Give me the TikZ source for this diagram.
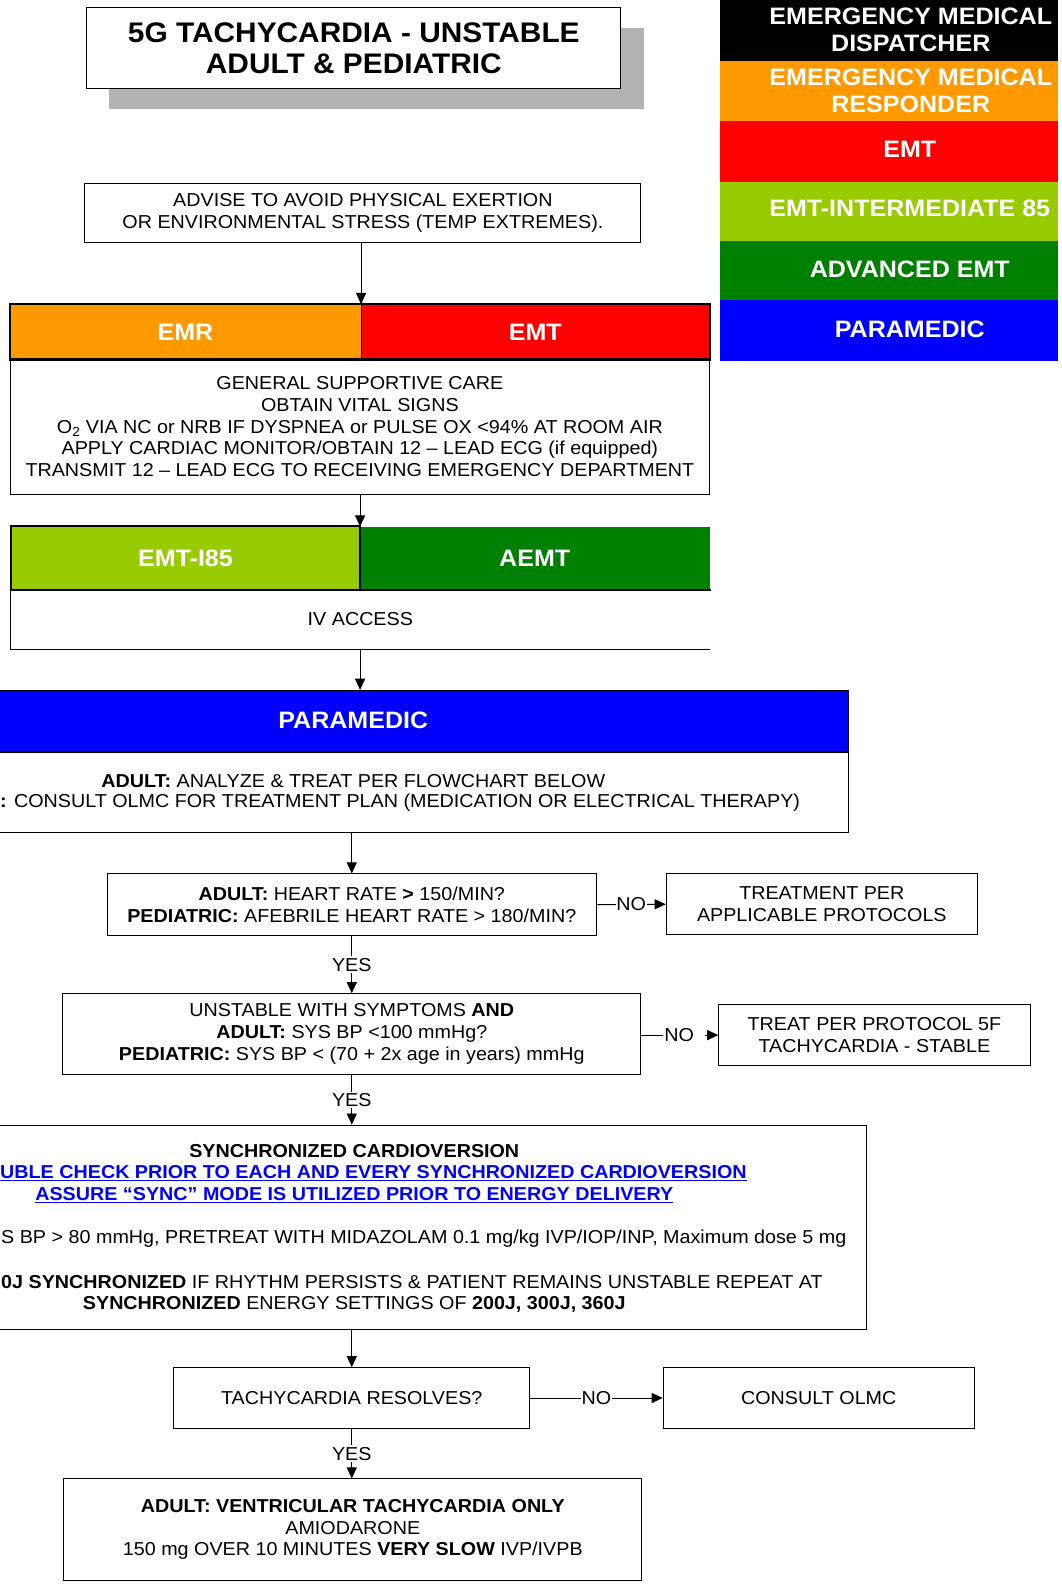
\documentclass[tikz,border=0pt]{standalone}
\usepackage{fontspec}
\setmainfont[FakeStretch=1.055]{Liberation Sans}
\usetikzlibrary{arrows.meta}
\definecolor{emrorange}{HTML}{FF9900}
\definecolor{emtred}{HTML}{FF0000}
\definecolor{iyg}{HTML}{99CC00}
\definecolor{aemtgreen}{HTML}{008000}
\definecolor{parablue}{HTML}{0000FF}
\definecolor{shadowgray}{HTML}{B3B3B3}
\newcommand\rsBody{\fontsize{18.5}{21.5}\selectfont}
\newcommand\rsTitle{\fontsize{28}{31}\selectfont\bfseries}
\newcommand\rsHead{\fontsize{23.5}{27}\selectfont\bfseries}
\newcommand\rsLink[1]{{\color{parablue}\bfseries\underline{#1}}}
\begin{document}
\begin{tikzpicture}[x=1pt,y=-1pt,
  box/.style={draw=black, line width=0.9pt, rectangle, inner sep=0pt, align=center, font=\rsBody},
  plain/.style={inner sep=0pt, align=center, font=\rsBody},
  hdr/.style={rectangle, inner sep=0pt, draw=none, text=white, font=\rsHead},
  legcell/.style={rectangle, inner sep=0pt, draw=none, minimum width=335pt},
  legtext/.style={inner sep=0pt, align=center, text=white, font=\rsHead},
  thickb/.style={line width=2pt, line cap=rect},
  arr/.style={line width=0.9pt, -{Triangle[length=11pt,width=10pt]}},
  conn/.style={line width=0.9pt},
  lbl/.style={fill=white, inner sep=1.5pt, font=\rsBody}]
\useasboundingbox (0,0) rectangle (1050,1568);
\fill[white] (0,0) rectangle (1050,1568);
\clip (0,0) rectangle (1050,1568);

% ---------- legend ----------
\node[legcell, fill=black, minimum height=60pt] (lg1) at (879.5,30) {};
\node[legtext] (lt1) at (901,29.5) {EMERGENCY MEDICAL\\DISPATCHER};
\node[legcell, fill=emrorange, minimum height=60pt] (lg2) at (879.5,90) {};
\node[legtext] (lt2) at (901,89.5) {EMERGENCY MEDICAL\\RESPONDER};
\node[legcell, fill=emtred, minimum height=60pt] (lg3) at (879.5,150) {};
\node[legtext] (lt3) at (900,148) {EMT};
\node[legcell, fill=iyg, minimum height=58pt] (lg4) at (879.5,209) {};
\node[legtext] (lt4) at (900,206) {EMT-INTERMEDIATE 85};
\node[legcell, fill=aemtgreen, minimum height=59pt] (lg5) at (879.5,267.5) {};
\node[legtext] (lt5) at (900,266) {ADVANCED EMT};
\node[legcell, fill=parablue, minimum height=60pt] (lg6) at (879.5,327) {};
\node[legtext] (lt6) at (900,326) {PARAMEDIC};

% ---------- title ----------
\fill[shadowgray] (108,28) rectangle (637,108);
\node[box, fill=white, minimum width=528pt, minimum height=80pt, font=\rsTitle] (title) at (350,47.5)
  {5G TACHYCARDIA - UNSTABLE\\ADULT \& PEDIATRIC};

% ---------- advise ----------
\node[box, minimum width=550pt, minimum height=59pt] (advise) at (359,210.5)
  {ADVISE TO AVOID PHYSICAL EXERTION\\OR ENVIRONMENTAL STRESS (TEMP EXTREMES).};

% ---------- EMR / EMT ----------
\node[hdr, fill=emrorange, minimum width=347pt, minimum height=55pt] (emr) at (183.5,328.5) {EMR};
\node[hdr, fill=emtred, minimum width=345pt, minimum height=55pt] (emt) at (529.5,328.5) {EMT};
\draw[line width=1pt] (emr.north east) -- (emr.south east);
\draw[thickb] (emr.north west) rectangle (emt.south east);
\node[box, minimum width=692pt, minimum height=134pt] (care) at (356,422)
  {GENERAL SUPPORTIVE CARE\\
   OBTAIN VITAL SIGNS\\
   O\textsubscript{2} VIA NC or NRB IF DYSPNEA or PULSE OX <94\% AT ROOM AIR\\
   APPLY CARDIAC MONITOR/OBTAIN 12 -- LEAD ECG (if equipped)\\
   TRANSMIT 12 -- LEAD ECG TO RECEIVING EMERGENCY DEPARTMENT};
\draw[arr] (advise.south -| emr.north east) -- (emr.north east);

% ---------- EMT-I85 / AEMT ----------
\node[hdr, fill=iyg, minimum width=345pt, minimum height=62pt] (i85) at (183.5,552) {EMT-I85};
\node[hdr, fill=aemtgreen, minimum width=346pt, minimum height=62pt] (aemt) at (529,552) {AEMT};
\draw[thickb] (aemt.south east) -- (i85.south west) -- (i85.north west) -- (i85.north east) -- (i85.south east);
\node[plain, minimum width=691pt, minimum height=59pt] (iv) at (356.5,612.5) {IV ACCESS};
\draw[conn] (iv.north west) -- (iv.south west) -- (iv.south east);
\draw[arr] (care.south -| i85.north east) -- (i85.north east);

% ---------- PARAMEDIC ----------
\node[hdr, fill=parablue, draw=black, line width=1.2pt, minimum width=1000pt, minimum height=61pt] (para) at (339,713.5) {};
\node[legtext] (paratxt) at (349.5,712.5) {PARAMEDIC};
\node[box, minimum width=1000pt, minimum height=80pt] (pbody) at (339,784) {};
\node[plain] (pl1) at (349.5,772.5) {\textbf{ADULT:} ANALYZE \& TREAT PER FLOWCHART BELOW};
\node[plain, anchor=west] (pl2) at (0,794.5) {\textbf{:} CONSULT OLMC FOR TREATMENT PLAN (MEDICATION OR ELECTRICAL THERAPY)};
\draw[arr] (iv.south -| i85.north east) -- (para.north -| i85.north east);

% ---------- decision 1 ----------
\node[box, minimum width=484pt, minimum height=61pt] (d1) at (348,895)
  {\textbf{ADULT:} HEART RATE \textbf{>} 150/MIN?\\
   \textbf{PEDIATRIC:} AFEBRILE HEART RATE > 180/MIN?};
\node[box, minimum width=308pt, minimum height=60pt] (treat) at (813,894.5)
  {TREATMENT PER\\APPLICABLE PROTOCOLS};
\draw[arr] (pbody.south -| d1.north) -- (d1.north);
\draw[arr] (d1.east) -- node[lbl, inner sep=0.5pt] (no1) {NO} (treat.west);

% ---------- decision 2 ----------
\node[box, minimum width=572pt, minimum height=80pt] (d2) at (348,1023)
  {UNSTABLE WITH SYMPTOMS \textbf{AND}\\
   \textbf{ADULT:} SYS BP <100 mmHg?\\
   \textbf{PEDIATRIC:} SYS BP < (70 + 2x age in years) mmHg};
\node[box, minimum width=308pt, minimum height=60pt] (stable) at (865,1024)
  {TREAT PER PROTOCOL 5F\\TACHYCARDIA - STABLE};
\draw[arr] (d1.south) -- node[lbl] (yes1) {YES} (d2.north);
\draw[arr] (d2.east |- stable.west) -- node[lbl, xshift=4pt] (no2) {NO\kern9pt} (stable.west);

% ---------- synchronized cardioversion ----------
\node[box, minimum width=1020pt, minimum height=202pt] (sync) at (347,1214) {};
\node[plain] (s1) at (350.5,1138.5) {\bfseries SYNCHRONIZED CARDIOVERSION};
\node[plain, anchor=west] (s2) at (0,1160.5) {\rsLink{UBLE CHECK PRIOR TO EACH AND EVERY SYNCHRONIZED CARDIOVERSION}};
\node[plain] (s3) at (350.5,1182.5) {\rsLink{ASSURE “SYNC” MODE IS UTILIZED PRIOR TO ENERGY DELIVERY}};
\node[plain, anchor=west] (s4) at (1,1225) {S BP > 80 mmHg, PRETREAT WITH MIDAZOLAM 0.1 mg/kg IVP/IOP/INP, Maximum dose 5 mg};
\node[plain, anchor=west] (s5) at (1,1268) {\textbf{0J SYNCHRONIZED} IF RHYTHM PERSISTS \& PATIENT REMAINS UNSTABLE REPEAT AT};
\node[plain] (s6) at (350.5,1290) {\textbf{SYNCHRONIZED} ENERGY SETTINGS OF \textbf{200J, 300J, 360J}};
\draw[arr] (d2.south) -- node[lbl] (yes2) {YES} (d2.south |- sync.north);

% ---------- resolves ----------
\node[box, minimum width=352pt, minimum height=60pt] (res) at (348,1383) {TACHYCARDIA RESOLVES?};
\node[box, minimum width=308pt, minimum height=60pt] (olmc) at (810,1383) {CONSULT OLMC};
\draw[arr] (sync.south -| res.north) -- (res.north);
\draw[arr] (res.east) -- node[lbl, inner sep=0.5pt] (no3) {NO} (olmc.west);

% ---------- final ----------
\node[box, minimum width=572pt, minimum height=100pt] (amio) at (349,1513)
  {\textbf{ADULT: VENTRICULAR TACHYCARDIA ONLY}\\
   AMIODARONE\\
   150 mg OVER 10 MINUTES \textbf{VERY SLOW} IVP/IVPB};
\draw[arr] (res.south) -- node[lbl] (yes3) {YES} (res.south |- amio.north);
\end{tikzpicture}
\end{document}
